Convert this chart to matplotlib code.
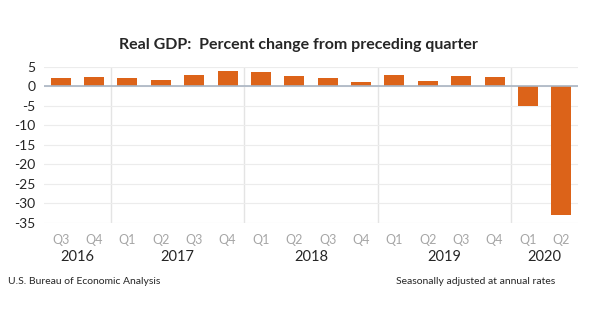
import matplotlib.pyplot as plt

quarters = ["Q3", "Q4", "Q1", "Q2", "Q3", "Q4", "Q1", "Q2",
            "Q3", "Q4", "Q1", "Q2", "Q3", "Q4", "Q1", "Q2"]
years = ["2016", "2017", "2018", "2019", "2020"]
year_counts = [2, 4, 4, 4, 2]
gdp_change = [2.1, 2.4, 2.2, 1.6, 2.9, 4.0, 3.7, 2.6,
              2.0, 1.1, 2.9, 1.4, 2.5, 2.3, -5.0, -32.9]

plt.rcParams["font.family"] = ["Lato", "DejaVu Sans"]

fig = plt.figure(figsize=(6.16, 3.35), dpi=100)
ax = fig.add_axes([44 / 616, 1 - 223 / 335, 534 / 616, (223 - 66.7) / 335])

x = list(range(len(gdp_change)))
ax.bar(x, gdp_change, width=0.6, color="#dc6319", zorder=3)

ax.set_xlim(-0.5, len(x) - 0.5)
ax.set_ylim(-35, 5)
ax.set_yticks(range(-35, 6, 5))
ax.set_yticklabels([str(v) for v in range(-35, 6, 5)],
                   fontsize=10, color="#262626")
ax.tick_params(axis="y", length=0, pad=6)
ax.tick_params(axis="x", length=0, pad=8)
ax.set_xticks(x)
ax.set_xticklabels(quarters, fontsize=9, color="#a6a6a6")

ax.grid(axis="y", color="#ececec", linewidth=0.8, zorder=0)
for s in ax.spines.values():
    s.set_visible(False)
ax.axhline(0, color="#a9b4c2", linewidth=1.2, zorder=4)

# year separators and labels
pos = 0
for yr, n in zip(years, year_counts):
    if pos > 0:
        ax.axvline(pos - 0.5, color="#e4e4e4", linewidth=1, zorder=1)
    ax.text(pos + (n - 1) / 2, -0.22, yr, transform=ax.get_xaxis_transform(),
            ha="center", va="center", fontsize=10.5, color="#262626")
    pos += n

fig.text(0.485, 1 - 45 / 335, "Real GDP:  Percent change from preceding quarter",
         ha="center", va="center", fontsize=11.5, fontweight="bold", color="#262626")
fig.text(8 / 616, 1 - 282 / 335, "U.S. Bureau of Economic Analysis",
         ha="left", va="center", fontsize=7.5, color="#262626")
fig.text(555 / 616, 1 - 282 / 335, "Seasonally adjusted at annual rates",
         ha="right", va="center", fontsize=7.5, color="#262626")

fig.savefig("out.png", dpi=100)
